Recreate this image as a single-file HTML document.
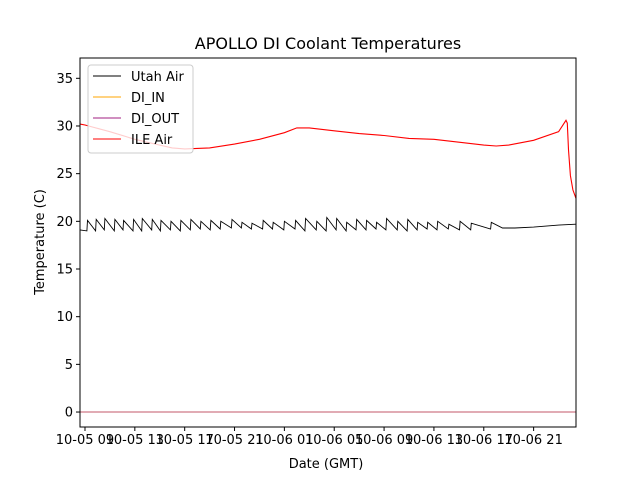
<!DOCTYPE html>
<html><head><meta charset="utf-8"><style>
body{margin:0;background:#fff;font-family:"DejaVu Sans","Liberation Sans",sans-serif}
svg text{font-family:"DejaVu Sans","Liberation Sans",sans-serif}
</style></head><body>
<svg id="chart" width="640" height="480" xmlns="http://www.w3.org/2000/svg">
<rect width="640" height="480" fill="#fff"/>
<text x="328" y="49" font-size="16" text-anchor="middle">APOLLO DI Coolant Temperatures</text>
<g id="plot"></g>
<g id="axes"></g>
<text x="326" y="468" font-size="13" text-anchor="middle">Date (GMT)</text>
<text transform="translate(44,242) rotate(-90)" font-size="13" text-anchor="middle">Temperature (C)</text>
<g id="legend"></g>
</svg>
<script>
const xTickHours=[0,4,8,12,16,20,24,28,32,36];
const xTickLabels=["10-05 09","10-05 13","10-05 17","10-05 21","10-06 01","10-06 05","10-06 09","10-06 13","10-06 17","10-06 21"];
const yTicks=[0,5,10,15,20,25,30,35];
const ileT=[-0.4,0,2,4,6,7,8,10,12,14,16,17,18,20,22,24,26,28,30,32,33,34,36,38,38.6,38.7,38.8,38.95,39.15,39.4];
const ileV=[30.2,30.1,29.4,28.6,28.0,27.7,27.6,27.7,28.1,28.6,29.3,29.8,29.8,29.5,29.2,29.0,28.7,28.6,28.3,28.0,27.9,28.0,28.5,29.4,30.6,30.3,27.5,24.8,23.3,22.4];
const utahPeakT=[0.2,0.9,1.6,2.4,3.1,3.9,4.6,5.4,6.1,6.9,7.7,8.5,9.3,10.1,10.9,11.8,12.6,13.4,14.3,15.1,16.0,16.9,17.7,18.6,19.4,20.2,21.0,21.8,22.6,23.4,24.2,25.1,25.9,26.7,27.5,28.3,29.2,30.1,31.0,32.6];
const utahPeakV=[20.1,20.2,20.3,20.2,20.1,20.2,20.3,20.2,20.1,20.0,20.1,20.2,20.0,20.1,20.0,20.2,19.9,19.8,20.1,19.9,20.0,20.1,20.3,20.0,20.4,20.3,19.9,20.2,20.1,19.9,20.3,20.0,20.2,19.9,19.9,20.0,19.7,20.0,19.8,19.9];
const utahLowV=[19.0,19.0,19.1,19.0,19.1,19.0,19.0,19.1,19.0,19.1,19.0,19.1,19.2,19.1,19.2,19.3,19.3,19.2,19.2,19.2,19.1,19.2,19.0,19.1,19.0,19.1,19.0,19.1,19.1,19.2,19.1,19.1,19.0,19.1,19.2,19.1,19.2,19.1,19.1,19.2];
const utahTailT=[33.5,34.5,36,38,39.4];
const utahTailV=[19.3,19.3,19.4,19.6,19.7];
const diInV=0, diOutV=0;

const L=80,R=576,T=58,B=427;
const x0=-0.4,x1=39.4,y0=-1.57,y1=37.13;
const sx=t=>L+(t-x0)/(x1-x0)*(R-L);
const sy=v=>B-(v-y0)/(y1-y0)*(B-T);
const NS="http://www.w3.org/2000/svg";
function mk(tag,attrs,parent){const e=document.createElementNS(NS,tag);for(const k in attrs)e.setAttribute(k,attrs[k]);parent.appendChild(e);return e;}
const plot=document.getElementById('plot'),axes=document.getElementById('axes'),leg=document.getElementById('legend');

let up=[[x0,19.1]];
for(let i=0;i<utahPeakT.length;i++){up.push([utahPeakT[i]-0.05,utahLowV[i]]);up.push([utahPeakT[i],utahPeakV[i]]);}
for(let i=0;i<utahTailT.length;i++)up.push([utahTailT[i],utahTailV[i]]);
const ileP=ileT.map((t,i)=>[t,ileV[i]]);
const pathOf=pts=>pts.map((p,i)=>(i?'L':'M')+sx(p[0]).toFixed(1)+','+sy(p[1]).toFixed(1)).join('');
let e;
e=mk('path',{d:pathOf(up),fill:'none',stroke:'#000','stroke-width':0.9},plot);


e=mk('path',{d:pathOf([[x0,diInV],[x1,diInV]]),fill:'none',stroke:'orange','stroke-width':0.8},plot);


e=mk('path',{d:pathOf([[x0,diOutV],[x1,diOutV]]),fill:'none',stroke:'#a01f80','stroke-width':0.8,opacity:0.85},plot);


e=mk('path',{d:pathOf(ileP),fill:'none',stroke:'red','stroke-width':1.1},plot);



mk('rect',{x:L,y:T,width:R-L,height:B-T,fill:'none',stroke:'#000','stroke-width':1},axes);
yTicks.forEach(v=>{const y=sy(v);mk('line',{x1:L-4,x2:L,y1:y,y2:y,stroke:'#000'},axes);
 const t=mk('text',{x:L-7,y:y+4.5,'font-size':13,'text-anchor':'end'},axes);t.textContent=v;
 
 });
xTickHours.forEach((h,i)=>{const x=sx(h);mk('line',{x1:x,x2:x,y1:B,y2:B+4,stroke:'#000'},axes);
 const t=mk('text',{x:x,y:B+17,'font-size':13,'text-anchor':'middle'},axes);t.textContent=xTickLabels[i];
 
 });

mk('rect',{x:88,y:65,width:105,height:88,rx:3,fill:'#fff','fill-opacity':0.8,stroke:'#ccc'},leg);
const names=["Utah Air","DI_IN","DI_OUT","ILE Air"],cols=["#000","orange","#a01f80","red"];
names.forEach((n,i)=>{const y=76+i*21;mk('line',{x1:93,x2:121,y1:y,y2:y,stroke:cols[i],'stroke-width':1},leg);
 const t=mk('text',{x:131,y:y+5,'font-size':13},leg);t.textContent=n;
 
 });
</script>
</body></html>
